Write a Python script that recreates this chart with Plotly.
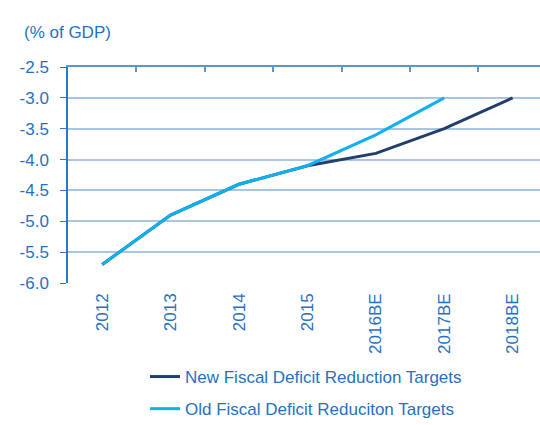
import plotly.graph_objects as go

categories = ["2012", "2013", "2014", "2015", "2016BE", "2017BE", "2018BE"]
new_targets = [-5.7, -4.9, -4.4, -4.1, -3.9, -3.5, -3.0]
old_targets = [-5.7, -4.9, -4.4, -4.1, -3.6, -3.0, None]
y_ticks = [-2.5, -3.0, -3.5, -4.0, -4.5, -5.0, -5.5, -6.0]

TXT = "#1f72c2"
FONT = "Liberation Sans, Arial, sans-serif"
FS = 17

fig = go.Figure()
fig.add_trace(go.Scatter(
    x=categories, y=new_targets, mode="lines",
    name="New Fiscal Deficit Reduction Targets",
    line=dict(color="#213f6e", width=3), legendgroup="a"))
fig.add_trace(go.Scatter(
    x=categories, y=old_targets, mode="lines",
    name="Old Fiscal Deficit Reduciton Targets",
    line=dict(color="#0fb0ee", width=3), legendgroup="b"))
# invisible trace to carry the top axis (tick marks at category boundaries)
fig.add_trace(go.Scatter(
    x=categories, y=new_targets, mode="lines", xaxis="x2",
    line=dict(color="rgba(0,0,0,0)"), showlegend=False, hoverinfo="skip"))

fig.update_layout(
    width=540, height=425,
    margin=dict(l=68, r=0, t=67, b=142, autoexpand=False),
    paper_bgcolor="white", plot_bgcolor="white",
    font=dict(family=FONT, size=FS, color=TXT),
    title=dict(text="(% of GDP)", x=24/540, xanchor="left",
               y=1-32/425, yanchor="middle",
               font=dict(family=FONT, size=FS, color=TXT)),
    xaxis=dict(type="category", categoryorder="array", categoryarray=categories,
               range=[-0.5, 6.4], showgrid=False, showline=False,
               ticks="", tickangle=-90, ticklabelstandoff=6,
               tickfont=dict(family=FONT, size=FS, color=TXT), zeroline=False,
               automargin=False),
    xaxis2=dict(type="category", categoryorder="array", categoryarray=categories,
                range=[-0.5, 6.4], overlaying="x", side="top", anchor="y",
                showgrid=False, showline=True, linecolor="#5b96d4", linewidth=2,
                ticks="inside", tickson="boundaries", ticklen=5, tickwidth=1.5,
                tickcolor="#5b96d4", showticklabels=False, automargin=False),
    yaxis=dict(range=[-6.0, -2.5], tickvals=y_ticks,
               ticktext=[f"{v:.1f}" for v in y_ticks],
               showgrid=True, gridcolor="#aac4e4", gridwidth=1.5,
               showline=True, linecolor="#2f78c8", linewidth=1.5,
               ticks="outside", ticklen=6, tickcolor="#2f78c8",
               ticklabelstandoff=8, zeroline=False, automargin=False,
               tickfont=dict(family=FONT, size=FS, color=TXT)),
    legend=dict(xref="container", yref="container",
                x=145/540, y=1-359/425, xanchor="left", yanchor="top",
                traceorder="grouped", tracegroupgap=7,
                font=dict(family=FONT, size=FS, color=TXT),
                bgcolor="rgba(0,0,0,0)"),
    showlegend=True,
)

fig.write_html("out.html")
